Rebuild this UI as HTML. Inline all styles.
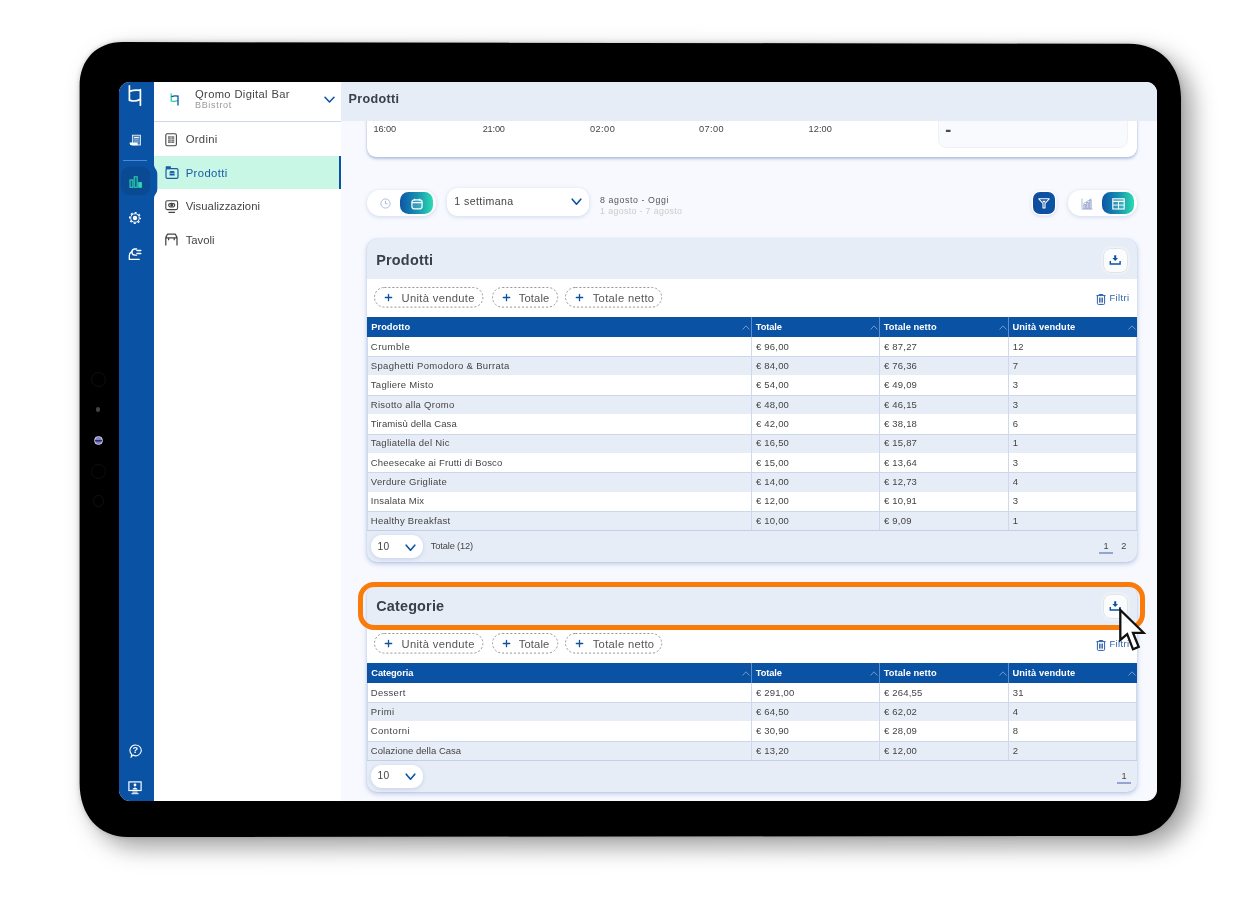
<!DOCTYPE html>
<html lang="it"><head><meta charset="utf-8"><title>Prodotti</title><style>
*{box-sizing:border-box;margin:0;padding:0}
html,body{width:1250px;height:920px;background:#fff;overflow:hidden}
body{position:relative;font-family:"Liberation Sans",sans-serif;color:#444;-webkit-font-smoothing:antialiased}
.a{position:absolute}
.device{left:79.7px;top:42.6px;width:1100.6px;height:794px;background:#000;border-radius:43px 52px 50px 46px / 44px 54px 56px 54px;box-shadow:6px 10px 18px rgba(0,0,0,.28),0 0 6px rgba(0,0,0,.18)}
.screen{left:119px;top:82px;width:1038px;height:719px;border-radius:11px;overflow:hidden;background:#f7f9fe}
.pg{left:-119px;top:-82px;width:1250px;height:920px}
.rail{left:119px;top:82px;width:35px;height:719px;background:#0a52a4}
.nav{left:154px;top:82px;width:187px;height:719px;background:#fff}
.t{white-space:nowrap;line-height:1}
.card{background:#e7edf7;border-radius:10px;box-shadow:0 2px 5px rgba(120,145,200,.45),0 0 2px rgba(120,145,200,.25)}
.chip{border:1px dashed #9a9a9a;border-radius:11px;height:21px;background:#fff}
.pill{background:#fff;border-radius:12px;box-shadow:0 1px 4px rgba(120,145,200,.32)}
.grad{background:linear-gradient(90deg,#0f56a7 0%,#1691b0 52%,#2ddbb0 100%);border-radius:8.5px}
.th{background:#0a52a4;color:#fff;font-weight:bold;font-size:9px}
.row{left:367px;width:770px}
.row.e{background:#e7edf7;border-top:1px solid #cdd7eb;border-bottom:1px solid #cdd7eb}
.row.o{background:#fff}
.cell{font-size:9px;color:#444;top:5.5px}
.vl{width:1px;background:#d0d9ec}
</style></head><body>
<svg class="a" style="left:0;top:0;filter:drop-shadow(11px 10px 12px rgba(0,0,0,.33)) drop-shadow(0 0 2.5px rgba(0,0,0,.2))" width="1250" height="920" viewBox="0 0 1250 920"><path d="M122.6 42.1L1129.0 43.8C1160.2 43.8 1181.0 65.4 1181.0 97.8L1181.0 779.9C1181.0 813.5 1161.0 835.9 1131.0 835.9L127.6 837.1C98.8 837.1 79.6 815.5 79.6 783.1L79.6 86.1C79.6 59.7 96.8 42.1 122.6 42.1Z" fill="#000"/></svg>
<div class="a" style="left:90.7px;top:371.9px;width:15.2px;height:15.2px;border-radius:50%;border:1px solid #101010"></div>
<div class="a" style="left:96.1px;top:407.40000000000003px;width:4.4px;height:4.4px;border-radius:50%;background:#444"></div>
<div class="a" style="left:93.6px;top:435.6px;width:9.4px;height:9.4px;border-radius:50%;background:linear-gradient(180deg,#7a7ac6 0%,#8a8ad0 35%,#23235c 45%,#3a3a8a 60%,#7d7dc8 75%);border:1.4px solid #cfd0ea"></div>
<div class="a" style="left:90.7px;top:463.7px;width:15.2px;height:15.2px;border-radius:50%;border:1px solid #0e0e0e"></div>
<div class="a" style="left:92.5px;top:495.4px;width:11.6px;height:11.6px;border-radius:50%;border:1px solid #111"></div>
<div class="a screen"><div class="a pg">
<div class="a" style="left:367px;top:100px;width:770px;height:56.5px;background:#fff;border-radius:9px;box-shadow:0 2px 3px rgba(120,145,200,.5),0 0 2px rgba(120,145,200,.3)"></div>
<div class="a" style="left:937.5px;top:100px;width:190px;height:47.5px;background:#f8fafe;border-radius:8px;border:1px solid #eef1f8"></div>
<div class="a t" id="dash" style="left:945.2px;top:120.7px;font-size:18px;font-weight:bold;color:#4a4a4a">-</div>
<div class="a t" style="left:373.4px;top:125.0px;font-size:9.2px;color:#444;letter-spacing:-0.06px;">16:00</div>
<div class="a t" style="left:482.7px;top:125.0px;font-size:9.2px;color:#444;letter-spacing:-0.18px;">21:00</div>
<div class="a t" style="left:590.0px;top:125.0px;font-size:9.2px;color:#444;letter-spacing:0.44px;">02:00</div>
<div class="a t" style="left:699.0px;top:125.0px;font-size:9.2px;color:#444;letter-spacing:0.39px;">07:00</div>
<div class="a t" style="left:808.6px;top:125.0px;font-size:9.2px;color:#444;letter-spacing:0.04px;">12:00</div>
<div class="a" style="left:341px;top:82px;width:816px;height:39px;background:#e7edf7"></div>
<div class="a t" style="left:348.6px;top:93.2px;font-size:12.6px;color:#3a404a;font-weight:bold;letter-spacing:0.30px;">Prodotti</div>
<div class="a rail"></div>
<div class="a nav"></div>
<div class="a" style="left:154px;top:121px;width:187px;height:1px;background:#cfd8ea"></div>
<div class="a" style="left:123px;top:160px;width:24px;height:1px;background:#4a8ad6"></div>
<div class="a" style="left:120.6px;top:167px;width:29px;height:27.6px;border-radius:8px;background:#0a4a93"></div>
<svg class="a" style="left:127px;top:84px" width="17" height="24" viewBox="0 0 17 24" fill="none" stroke="#fff" stroke-width="1.7" stroke-linecap="round"><path d="M2.4 1.8V16.3M13.4 5.6V21.2M3 7.2Q8 5.4 13.2 6.4M2.7 16.1Q8 18.3 13.2 15.2"/></svg>
<svg class="a" style="left:129px;top:134px" width="13" height="12" viewBox="0 0 13 12"><rect x="3.4" y="1.2" width="8" height="9.8" fill="#fff" fill-opacity=".28" stroke="#fff" stroke-opacity=".9" stroke-width=".9"/><path d="M5 3.6H9.8" stroke="#fff" stroke-width="1"/><path d="M5 5.6H9.8M5 7.2H9.8" stroke="#fff" stroke-opacity=".45" stroke-width=".7"/><path d="M0.7 8.6H8.6V11.2H2.2Q0.7 11.2 0.7 9.6Z" fill="#fff"/></svg>
<svg class="a" style="left:128.5px;top:175px" width="14" height="14" viewBox="0 0 14 14"><rect x="1" y="4.9" width="2.9" height="7.4" fill="#1c7f9a" fill-opacity=".45" stroke="#2fd9ad" stroke-width="1"/><rect x="5.2" y="1.8" width="3" height="10.5" fill="#1c7f9a" fill-opacity=".45" stroke="#2fd9ad" stroke-width="1"/><rect x="9.2" y="7.1" width="3.7" height="5.7" fill="#2fd9ad"/></svg>
<svg class="a" style="left:128px;top:211px" width="14" height="14" viewBox="0 0 14 14"><circle cx="7" cy="7" r="4.3" fill="none" stroke="#fff" stroke-width="1"/><circle cx="7" cy="7" r="5.4" fill="none" stroke="#fff" stroke-width="1.3" stroke-dasharray="2.12 2.12" stroke-dashoffset="1"/><circle cx="7" cy="7" r="2.2" fill="#fff"/></svg>
<svg class="a" style="left:128px;top:247px" width="15" height="14" viewBox="0 0 15 14" fill="none" stroke="#fff" stroke-width="1.3" stroke-linecap="round" stroke-linejoin="round"><path d="M8.6 2H7A3.1 3.1 0 0 0 7 8.2H8.6"/><path d="M9 3.4H12.8M9 6.6H12.8" stroke-width="1.5"/><path d="M3.9 4.4Q1.3 6 1.3 9V12.4H11.2"/></svg>
<svg class="a" style="left:128.5px;top:744px" width="14" height="14" viewBox="0 0 14 14" fill="none" stroke="#fff" stroke-width="1.1"><path d="M7 1A5.4 5.4 0 1 1 4 11L2.2 13L2.6 10.2A5.4 5.4 0 0 1 7 1Z"/></svg>
<div class="a t" style="left:132.6px;top:746.1px;font-size:9.3px;color:#fff;font-weight:bold;">?</div>
<svg class="a" style="left:128px;top:781px" width="14" height="14" viewBox="0 0 14 14"><rect x="0.9" y="0.9" width="12.2" height="8.6" fill="none" stroke="#fff" stroke-width="1.2"/><circle cx="7" cy="4" r="1.4" fill="#fff"/><path d="M4.2 8.6Q7 4.5 9.8 8.6Z" fill="#fff"/><rect x="4.5" y="10.6" width="5" height="1" fill="#fff"/><rect x="3.5" y="12.2" width="7" height="1" fill="#fff"/></svg>
<svg class="a" style="left:169px;top:93px" width="11" height="13" viewBox="0 0 11 13" fill="none" stroke-width="1.3" stroke-linecap="round"><path d="M2.2 0.8V8.2M2.6 8Q5 9.1 8.6 7.7" stroke="#2fd3a3"/><path d="M9 2.8V12M2.8 3.6Q5.5 2.5 8.8 3.2" stroke="#0a52a4"/></svg>
<div class="a t" style="left:195.0px;top:88.5px;font-size:11.2px;color:#444;letter-spacing:0.35px;">Qromo Digital Bar</div>
<div class="a t" style="left:195.0px;top:101.2px;font-size:9px;color:#999;letter-spacing:0.68px;">BBistrot</div>
<svg class="a" style="left:323.5px;top:95.5px" width="11" height="8" viewBox="0 0 11 8" fill="none" stroke="#0a52a4" stroke-width="1.5" stroke-linecap="round" stroke-linejoin="round"><path d="M1 1.2L5.5 6L10 1.2"/></svg>
<div class="a" style="left:154px;top:156.2px;width:187px;height:33.2px;background:#c8f7e6"></div>
<div class="a" style="left:339px;top:156.2px;width:2px;height:33.2px;background:#0a52a4"></div>
<svg class="a" style="left:153.5px;top:165px" width="4" height="33" viewBox="0 0 4 33"><path d="M0 0C0.5 4 3.3 4.5 3.3 9V24C3.3 28.5 0.5 29 0 33Z" fill="#0a52a4"/></svg>
<div class="a t" style="left:185.7px;top:134.1px;font-size:11.3px;color:#444;letter-spacing:0.29px;">Ordini</div>
<div class="a t" style="left:185.7px;top:167.9px;font-size:11.3px;color:#1a5ca6;letter-spacing:0.38px;">Prodotti</div>
<div class="a t" style="left:185.7px;top:201.3px;font-size:11.3px;color:#444;letter-spacing:0.03px;">Visualizzazioni</div>
<div class="a t" style="left:185.7px;top:234.9px;font-size:11.3px;color:#444;letter-spacing:-0.02px;">Tavoli</div>
<svg class="a" style="left:165px;top:132.5px" width="13" height="14" viewBox="0 0 13 14" fill="none" stroke="#444" stroke-width="1.1"><rect x="0.8" y="0.8" width="10.6" height="12" rx="1.5"/><rect x="3" y="3.3" width="6.2" height="6.6" fill="#666" stroke="none"/><path d="M3 5H9.2M3 6.6H9.2M3 8.2H9.2M6.1 3.3V9.9" stroke="#fff" stroke-width=".5"/></svg>
<svg class="a" style="left:164.5px;top:166px" width="14" height="14" viewBox="0 0 14 14" fill="none" stroke="#1a5ca6" stroke-width="1.2"><path d="M1 0.6H5.6V2.8H1Z" fill="#1a5ca6" stroke-width=".6"/><rect x="1" y="2.6" width="12" height="9.8" rx="1.4"/><path d="M4.6 6.4Q4.6 5 6 5H8.2Q9.6 5 9.6 6.4V9.6H4.6Z" fill="#1a5ca6" stroke="none"/><path d="M4.4 7.3H9.8" stroke="#c8f7e6" stroke-width=".6"/></svg>
<svg class="a" style="left:165px;top:199.5px" width="14" height="14" viewBox="0 0 14 14" fill="none" stroke="#444" stroke-width="1.1"><rect x="0.8" y="0.8" width="11.8" height="8.8" rx="1.5"/><ellipse cx="6.7" cy="5.2" rx="3" ry="1.8"/><circle cx="6.7" cy="5.2" r="0.9" fill="#444"/><path d="M3.5 12.4H10" stroke-width="1.4"/></svg>
<svg class="a" style="left:165px;top:233px" width="13" height="13" viewBox="0 0 13 13" fill="none" stroke="#444" stroke-width="1.25" stroke-linejoin="round"><path d="M0.8 12.6V4.4L2.6 1H10.2L12 4.4V12.6M0.8 4.9H12M3.6 5V7.2M9.2 5V7.2"/></svg>
<div class="a pill" style="left:367px;top:190px;width:68.5px;height:26.3px;border-radius:13px"></div>
<div class="a grad" style="left:400.3px;top:192.4px;width:32.5px;height:21.4px"></div>
<svg class="a" style="left:380px;top:197.5px" width="11" height="11" viewBox="0 0 11 11" fill="none" stroke="#a9b6d8" stroke-width="0.9"><circle cx="5.5" cy="5.5" r="4.6"/><path d="M5.5 2.8V5.8H7.6"/></svg>
<svg class="a" style="left:411px;top:197.5px" width="12" height="12" viewBox="0 0 12 12" fill="none" stroke="#fff" stroke-width="1.2"><rect x="0.9" y="1.8" width="10.2" height="9" rx="2.2" fill="#fff" fill-opacity=".15"/><path d="M0.9 4.6H11.1M3.6 0.8V2.6M8.4 0.8V2.6"/></svg>
<div class="a pill" style="left:447px;top:187.5px;width:142px;height:28.7px;border-radius:11px"></div>
<div class="a t" style="left:454.3px;top:196.2px;font-size:10.6px;color:#444;letter-spacing:0.42px;">1 settimana</div>
<svg class="a" style="left:571px;top:197.5px" width="11" height="8" viewBox="0 0 11 8" fill="none" stroke="#0a52a4" stroke-width="1.6" stroke-linecap="round" stroke-linejoin="round"><path d="M1.2 1.2L5.5 6.2L9.8 1.2"/></svg>
<div class="a t" style="left:600.1px;top:196.2px;font-size:8.8px;color:#555;letter-spacing:0.58px;">8 agosto - Oggi</div>
<div class="a t" style="left:600.1px;top:206.9px;font-size:8.8px;color:#cbcbcb;letter-spacing:0.36px;">1 agosto - 7 agosto</div>
<div class="a" style="left:1033.2px;top:192px;width:21.4px;height:22px;border-radius:7px;background:linear-gradient(90deg,#114b9c,#0a55a6);box-shadow:0 0 0 1.5px #fff,0 1px 4px rgba(120,145,200,.6)"></div>
<svg class="a" style="left:1038px;top:197.5px" width="12" height="11" viewBox="0 0 12 11" fill="none" stroke="#fff" stroke-width="1.1" stroke-linejoin="round"><path d="M0.8 0.8H11.2L7 5.5V10H5V5.5Z"/><path d="M4 2.7H8L6 4.9Z" fill="#fff" stroke="none"/></svg>
<div class="a pill" style="left:1068px;top:190.4px;width:68.5px;height:26.1px;border-radius:13px"></div>
<div class="a grad" style="left:1101.8px;top:192.3px;width:32.2px;height:21.7px"></div>
<svg class="a" style="left:1080.5px;top:197.5px" width="12" height="12" viewBox="0 0 12 12" fill="none" stroke="#9eabd2" stroke-width="0.8"><path d="M1 0.5V11.2H11.5"/><rect x="2.8" y="6.4" width="1.8" height="4.2" fill="#c9d1ea"/><rect x="5.6" y="4.4" width="1.8" height="6.2" fill="#c9d1ea"/><rect x="8.4" y="2" width="1.8" height="8.6" fill="#c9d1ea"/><path d="M2.5 5.5L10.5 0.8"/></svg>
<svg class="a" style="left:1111.5px;top:197.5px" width="13" height="12" viewBox="0 0 13 12" fill="none" stroke="#fff" stroke-width="1.1"><rect x="0.8" y="0.8" width="11.4" height="10.2" fill="#fff" fill-opacity=".14"/><path d="M0.8 3.3H12.2" stroke-width="1.3"/><path d="M0.8 7.1H12.2M6.5 3.3V11" stroke-width=".9"/></svg>
<div class="a card" style="left:367px;top:239px;width:770px;height:322.8px"></div>
<div class="a" style="left:367px;top:279.2px;width:770px;height:38px;background:#fff"></div>
<div class="a t" style="left:376.2px;top:252.6px;font-size:14.4px;color:#3a404a;font-weight:bold;letter-spacing:0.23px;">Prodotti</div>
<div class="a" style="left:1102.5px;top:248px;width:25px;height:25px;border-radius:8px;background:#fbfcfe;border:1px solid #e4e4e6;box-shadow:0 0 3px rgba(255,255,255,.9)"></div>
<svg class="a" style="left:1108.5px;top:254.6px" width="13" height="11" viewBox="0 0 13 11"><path d="M5.2 0.2H7.2V3H9L6.2 5.9L3.4 3H5.2Z" fill="#0a52a4"/><path d="M1.3 6V9H11.1V6" fill="none" stroke="#0a52a4" stroke-width="1.4"/></svg>
<svg class="a" style="left:373.2px;top:285.9px" width="111.4" height="23"><rect x="1.5" y="1.5" width="108.4" height="19.6" rx="9.8" fill="#fff" stroke="#8c8c8c" stroke-width="0.9" stroke-dasharray="2.1 1.9"/></svg>
<svg class="a" style="left:384.2px;top:292.9px" width="9" height="9" viewBox="0 0 9 9" stroke="#0a52a4" stroke-width="1.3" stroke-linecap="round"><path d="M4.5 1.3V7.7M1.3 4.5H7.7"/></svg>
<div class="a t" style="left:401.5px;top:292.5px;font-size:11.2px;color:#555;letter-spacing:0.33px;">Unità vendute</div>
<svg class="a" style="left:490.5px;top:285.9px" width="68.2" height="23"><rect x="1.5" y="1.5" width="65.2" height="19.6" rx="9.8" fill="#fff" stroke="#8c8c8c" stroke-width="0.9" stroke-dasharray="2.1 1.9"/></svg>
<svg class="a" style="left:501.5px;top:292.9px" width="9" height="9" viewBox="0 0 9 9" stroke="#0a52a4" stroke-width="1.3" stroke-linecap="round"><path d="M4.5 1.3V7.7M1.3 4.5H7.7"/></svg>
<div class="a t" style="left:518.8px;top:292.5px;font-size:11.2px;color:#555;letter-spacing:0.12px;">Totale</div>
<svg class="a" style="left:564.4px;top:285.9px" width="99.2" height="23"><rect x="1.5" y="1.5" width="96.2" height="19.6" rx="9.8" fill="#fff" stroke="#8c8c8c" stroke-width="0.9" stroke-dasharray="2.1 1.9"/></svg>
<svg class="a" style="left:575.4px;top:292.9px" width="9" height="9" viewBox="0 0 9 9" stroke="#0a52a4" stroke-width="1.3" stroke-linecap="round"><path d="M4.5 1.3V7.7M1.3 4.5H7.7"/></svg>
<div class="a t" style="left:592.7px;top:292.5px;font-size:11.2px;color:#555;letter-spacing:0.32px;">Totale netto</div>
<svg class="a" style="left:1096px;top:293.5px" width="10" height="11" viewBox="0 0 10 11" fill="none" stroke="#2a5fa8" stroke-width="1"><path d="M0.5 1.6H9.5M3.2 1.4V0.5H6.8V1.4M1.4 1.8V9.4Q1.4 10.4 2.4 10.4H7.6Q8.6 10.4 8.6 9.4V1.8M3.6 3.6V8.6M5 3.6V8.6M6.4 3.6V8.6"/></svg>
<div class="a t" style="left:1109.5px;top:293.8px;font-size:9.3px;color:#2a5fa8;letter-spacing:0.39px;">Filtri</div>
<div class="a th" style="left:367px;top:317px;width:770px;height:20px"></div>
<div class="a t" style="left:371.3px;top:322.9px;font-size:9.3px;color:#fff;font-weight:bold;letter-spacing:0.02px;">Prodotto</div>
<svg class="a" style="left:742.0px;top:324.7px" width="8" height="5" viewBox="0 0 8 5" fill="none" stroke="#7fa3d6" stroke-width="0.9"><path d="M0.5 4.5L4 0.8L7.5 4.5"/></svg>
<div class="a t" style="left:755.8px;top:322.9px;font-size:9.3px;color:#fff;font-weight:bold;letter-spacing:-0.10px;">Totale</div>
<svg class="a" style="left:870.0px;top:324.7px" width="8" height="5" viewBox="0 0 8 5" fill="none" stroke="#7fa3d6" stroke-width="0.9"><path d="M0.5 4.5L4 0.8L7.5 4.5"/></svg>
<div class="a" style="left:751.0px;top:317.2px;width:1px;height:19.6px;background:#5f8ccb"></div>
<div class="a t" style="left:883.8px;top:322.9px;font-size:9.3px;color:#fff;font-weight:bold;letter-spacing:0.07px;">Totale netto</div>
<svg class="a" style="left:998.7px;top:324.7px" width="8" height="5" viewBox="0 0 8 5" fill="none" stroke="#7fa3d6" stroke-width="0.9"><path d="M0.5 4.5L4 0.8L7.5 4.5"/></svg>
<div class="a" style="left:879.0px;top:317.2px;width:1px;height:19.6px;background:#5f8ccb"></div>
<div class="a t" style="left:1012.5px;top:322.9px;font-size:9.3px;color:#fff;font-weight:bold;letter-spacing:0.11px;">Unità vendute</div>
<svg class="a" style="left:1127.5px;top:324.7px" width="8" height="5" viewBox="0 0 8 5" fill="none" stroke="#7fa3d6" stroke-width="0.9"><path d="M0.5 4.5L4 0.8L7.5 4.5"/></svg>
<div class="a" style="left:1007.7px;top:317.2px;width:1px;height:19.6px;background:#5f8ccb"></div>
<div class="a row o" style="top:337px;height:19px"></div>
<div class="a t" style="left:370.8px;top:341.5px;font-size:9.5px;color:#444;letter-spacing:0.50px;">Crumble</div>
<div class="a t" style="left:756.0px;top:341.5px;font-size:9.5px;color:#444;letter-spacing:0.20px;">€ 96,00</div>
<div class="a t" style="left:884.0px;top:341.5px;font-size:9.5px;color:#444;letter-spacing:0.20px;">€ 87,27</div>
<div class="a t" style="left:1012.7px;top:341.5px;font-size:9.5px;color:#444;letter-spacing:0.20px;">12</div>
<div class="a row e" style="top:356px;height:20px"></div>
<div class="a t" style="left:370.8px;top:360.8px;font-size:9.5px;color:#444;letter-spacing:0.34px;">Spaghetti Pomodoro &amp; Burrata</div>
<div class="a t" style="left:756.0px;top:360.8px;font-size:9.5px;color:#444;letter-spacing:0.20px;">€ 84,00</div>
<div class="a t" style="left:884.0px;top:360.8px;font-size:9.5px;color:#444;letter-spacing:0.20px;">€ 76,36</div>
<div class="a t" style="left:1012.7px;top:360.8px;font-size:9.5px;color:#444;letter-spacing:0.20px;">7</div>
<div class="a row o" style="top:375px;height:20px"></div>
<div class="a t" style="left:370.8px;top:380.2px;font-size:9.5px;color:#444;letter-spacing:0.29px;">Tagliere Misto</div>
<div class="a t" style="left:756.0px;top:380.2px;font-size:9.5px;color:#444;letter-spacing:0.20px;">€ 54,00</div>
<div class="a t" style="left:884.0px;top:380.2px;font-size:9.5px;color:#444;letter-spacing:0.20px;">€ 49,09</div>
<div class="a t" style="left:1012.7px;top:380.2px;font-size:9.5px;color:#444;letter-spacing:0.20px;">3</div>
<div class="a row e" style="top:395px;height:20px"></div>
<div class="a t" style="left:370.8px;top:399.5px;font-size:9.5px;color:#444;letter-spacing:0.28px;">Risotto alla Qromo</div>
<div class="a t" style="left:756.0px;top:399.5px;font-size:9.5px;color:#444;letter-spacing:0.20px;">€ 48,00</div>
<div class="a t" style="left:884.0px;top:399.5px;font-size:9.5px;color:#444;letter-spacing:0.20px;">€ 46,15</div>
<div class="a t" style="left:1012.7px;top:399.5px;font-size:9.5px;color:#444;letter-spacing:0.20px;">3</div>
<div class="a row o" style="top:414px;height:20px"></div>
<div class="a t" style="left:370.8px;top:418.9px;font-size:9.5px;color:#444;letter-spacing:0.13px;">Tiramisù della Casa</div>
<div class="a t" style="left:756.0px;top:418.9px;font-size:9.5px;color:#444;letter-spacing:0.20px;">€ 42,00</div>
<div class="a t" style="left:884.0px;top:418.9px;font-size:9.5px;color:#444;letter-spacing:0.20px;">€ 38,18</div>
<div class="a t" style="left:1012.7px;top:418.9px;font-size:9.5px;color:#444;letter-spacing:0.20px;">6</div>
<div class="a row e" style="top:434px;height:20px"></div>
<div class="a t" style="left:370.8px;top:438.3px;font-size:9.5px;color:#444;letter-spacing:0.26px;">Tagliatella del Nic</div>
<div class="a t" style="left:756.0px;top:438.3px;font-size:9.5px;color:#444;letter-spacing:0.20px;">€ 16,50</div>
<div class="a t" style="left:884.0px;top:438.3px;font-size:9.5px;color:#444;letter-spacing:0.20px;">€ 15,87</div>
<div class="a t" style="left:1012.7px;top:438.3px;font-size:9.5px;color:#444;letter-spacing:0.20px;">1</div>
<div class="a row o" style="top:453px;height:19px"></div>
<div class="a t" style="left:370.8px;top:457.6px;font-size:9.5px;color:#444;letter-spacing:0.19px;">Cheesecake ai Frutti di Bosco</div>
<div class="a t" style="left:756.0px;top:457.6px;font-size:9.5px;color:#444;letter-spacing:0.20px;">€ 15,00</div>
<div class="a t" style="left:884.0px;top:457.6px;font-size:9.5px;color:#444;letter-spacing:0.20px;">€ 13,64</div>
<div class="a t" style="left:1012.7px;top:457.6px;font-size:9.5px;color:#444;letter-spacing:0.20px;">3</div>
<div class="a row e" style="top:472px;height:21px"></div>
<div class="a t" style="left:370.8px;top:477.0px;font-size:9.5px;color:#444;letter-spacing:0.29px;">Verdure Grigliate</div>
<div class="a t" style="left:756.0px;top:477.0px;font-size:9.5px;color:#444;letter-spacing:0.20px;">€ 14,00</div>
<div class="a t" style="left:884.0px;top:477.0px;font-size:9.5px;color:#444;letter-spacing:0.20px;">€ 12,73</div>
<div class="a t" style="left:1012.7px;top:477.0px;font-size:9.5px;color:#444;letter-spacing:0.20px;">4</div>
<div class="a row o" style="top:492px;height:19px"></div>
<div class="a t" style="left:370.8px;top:496.3px;font-size:9.5px;color:#444;letter-spacing:0.23px;">Insalata Mix</div>
<div class="a t" style="left:756.0px;top:496.3px;font-size:9.5px;color:#444;letter-spacing:0.20px;">€ 12,00</div>
<div class="a t" style="left:884.0px;top:496.3px;font-size:9.5px;color:#444;letter-spacing:0.20px;">€ 10,91</div>
<div class="a t" style="left:1012.7px;top:496.3px;font-size:9.5px;color:#444;letter-spacing:0.20px;">3</div>
<div class="a row e" style="top:511px;height:20px"></div>
<div class="a t" style="left:370.8px;top:515.7px;font-size:9.5px;color:#444;letter-spacing:0.27px;">Healthy Breakfast</div>
<div class="a t" style="left:756.0px;top:515.7px;font-size:9.5px;color:#444;letter-spacing:0.20px;">€ 10,00</div>
<div class="a t" style="left:884.0px;top:515.7px;font-size:9.5px;color:#444;letter-spacing:0.20px;">€ 9,09</div>
<div class="a t" style="left:1012.7px;top:515.7px;font-size:9.5px;color:#444;letter-spacing:0.20px;">1</div>
<div class="a vl" style="left:751.0px;top:336.7px;height:193.6px"></div>
<div class="a vl" style="left:879.0px;top:336.7px;height:193.6px"></div>
<div class="a vl" style="left:1007.7px;top:336.7px;height:193.6px"></div>
<div class="a vl" style="left:367px;top:336.7px;height:193.6px"></div>
<div class="a vl" style="left:1136px;top:336.7px;height:193.6px"></div>
<div class="a" style="left:367px;top:529.8px;width:770px;height:1px;background:#c3cfe6"></div>
<div class="a pill" style="left:371px;top:535.0999999999999px;width:52px;height:23.4px;border-radius:11px"></div>
<div class="a t" style="left:377.6px;top:541.5px;font-size:10.2px;color:#444;letter-spacing:0.20px;">10</div>
<svg class="a" style="left:404.5px;top:543.5999999999999px" width="11" height="8" viewBox="0 0 11 8" fill="none" stroke="#0a52a4" stroke-width="1.6" stroke-linecap="round" stroke-linejoin="round"><path d="M1.2 1.2L5.5 6.2L9.8 1.2"/></svg>
<div class="a t" style="left:430.7px;top:541.8px;font-size:9.3px;color:#444;letter-spacing:-0.14px;">Totale (12)</div>
<div class="a t" style="left:1103.4px;top:541.7px;font-size:9.2px;color:#444;">1</div>
<div class="a t" style="left:1121.3px;top:541.7px;font-size:9.2px;color:#444;">2</div>
<div class="a" style="left:1099px;top:552px;width:14px;height:2px;background:#93a5d4"></div>
<div class="a card" style="left:367px;top:585px;width:770px;height:206.64px"></div>
<div class="a" style="left:367px;top:625.2px;width:770px;height:38px;background:#fff"></div>
<div class="a t" style="left:376.2px;top:598.6px;font-size:14.4px;color:#3a404a;font-weight:bold;letter-spacing:0.19px;">Categorie</div>
<div class="a" style="left:1102.5px;top:594px;width:25px;height:25px;border-radius:8px;background:#fbfcfe;border:1px solid #e4e4e6;box-shadow:0 0 3px rgba(255,255,255,.9)"></div>
<svg class="a" style="left:1108.5px;top:600.6px" width="13" height="11" viewBox="0 0 13 11"><path d="M5.2 0.2H7.2V3H9L6.2 5.9L3.4 3H5.2Z" fill="#0a52a4"/><path d="M1.3 6V9H11.1V6" fill="none" stroke="#0a52a4" stroke-width="1.4"/></svg>
<svg class="a" style="left:373.2px;top:631.9px" width="111.4" height="23"><rect x="1.5" y="1.5" width="108.4" height="19.6" rx="9.8" fill="#fff" stroke="#8c8c8c" stroke-width="0.9" stroke-dasharray="2.1 1.9"/></svg>
<svg class="a" style="left:384.2px;top:638.9000000000001px" width="9" height="9" viewBox="0 0 9 9" stroke="#0a52a4" stroke-width="1.3" stroke-linecap="round"><path d="M4.5 1.3V7.7M1.3 4.5H7.7"/></svg>
<div class="a t" style="left:401.5px;top:638.5px;font-size:11.2px;color:#555;letter-spacing:0.33px;">Unità vendute</div>
<svg class="a" style="left:490.5px;top:631.9px" width="68.2" height="23"><rect x="1.5" y="1.5" width="65.2" height="19.6" rx="9.8" fill="#fff" stroke="#8c8c8c" stroke-width="0.9" stroke-dasharray="2.1 1.9"/></svg>
<svg class="a" style="left:501.5px;top:638.9000000000001px" width="9" height="9" viewBox="0 0 9 9" stroke="#0a52a4" stroke-width="1.3" stroke-linecap="round"><path d="M4.5 1.3V7.7M1.3 4.5H7.7"/></svg>
<div class="a t" style="left:518.8px;top:638.5px;font-size:11.2px;color:#555;letter-spacing:0.12px;">Totale</div>
<svg class="a" style="left:564.4px;top:631.9px" width="99.2" height="23"><rect x="1.5" y="1.5" width="96.2" height="19.6" rx="9.8" fill="#fff" stroke="#8c8c8c" stroke-width="0.9" stroke-dasharray="2.1 1.9"/></svg>
<svg class="a" style="left:575.4px;top:638.9000000000001px" width="9" height="9" viewBox="0 0 9 9" stroke="#0a52a4" stroke-width="1.3" stroke-linecap="round"><path d="M4.5 1.3V7.7M1.3 4.5H7.7"/></svg>
<div class="a t" style="left:592.7px;top:638.5px;font-size:11.2px;color:#555;letter-spacing:0.32px;">Totale netto</div>
<svg class="a" style="left:1096px;top:639.5px" width="10" height="11" viewBox="0 0 10 11" fill="none" stroke="#2a5fa8" stroke-width="1"><path d="M0.5 1.6H9.5M3.2 1.4V0.5H6.8V1.4M1.4 1.8V9.4Q1.4 10.4 2.4 10.4H7.6Q8.6 10.4 8.6 9.4V1.8M3.6 3.6V8.6M5 3.6V8.6M6.4 3.6V8.6"/></svg>
<div class="a t" style="left:1109.5px;top:639.8px;font-size:9.3px;color:#2a5fa8;letter-spacing:0.39px;">Filtri</div>
<div class="a th" style="left:367px;top:663px;width:770px;height:20px"></div>
<div class="a t" style="left:371.3px;top:668.9px;font-size:9.3px;color:#fff;font-weight:bold;letter-spacing:-0.11px;">Categoria</div>
<svg class="a" style="left:742.0px;top:670.7px" width="8" height="5" viewBox="0 0 8 5" fill="none" stroke="#7fa3d6" stroke-width="0.9"><path d="M0.5 4.5L4 0.8L7.5 4.5"/></svg>
<div class="a t" style="left:755.8px;top:668.9px;font-size:9.3px;color:#fff;font-weight:bold;letter-spacing:-0.10px;">Totale</div>
<svg class="a" style="left:870.0px;top:670.7px" width="8" height="5" viewBox="0 0 8 5" fill="none" stroke="#7fa3d6" stroke-width="0.9"><path d="M0.5 4.5L4 0.8L7.5 4.5"/></svg>
<div class="a" style="left:751.0px;top:663.2px;width:1px;height:19.6px;background:#5f8ccb"></div>
<div class="a t" style="left:883.8px;top:668.9px;font-size:9.3px;color:#fff;font-weight:bold;letter-spacing:0.07px;">Totale netto</div>
<svg class="a" style="left:998.7px;top:670.7px" width="8" height="5" viewBox="0 0 8 5" fill="none" stroke="#7fa3d6" stroke-width="0.9"><path d="M0.5 4.5L4 0.8L7.5 4.5"/></svg>
<div class="a" style="left:879.0px;top:663.2px;width:1px;height:19.6px;background:#5f8ccb"></div>
<div class="a t" style="left:1012.5px;top:668.9px;font-size:9.3px;color:#fff;font-weight:bold;letter-spacing:0.11px;">Unità vendute</div>
<svg class="a" style="left:1127.5px;top:670.7px" width="8" height="5" viewBox="0 0 8 5" fill="none" stroke="#7fa3d6" stroke-width="0.9"><path d="M0.5 4.5L4 0.8L7.5 4.5"/></svg>
<div class="a" style="left:1007.7px;top:663.2px;width:1px;height:19.6px;background:#5f8ccb"></div>
<div class="a row o" style="top:683px;height:19px"></div>
<div class="a t" style="left:370.8px;top:687.5px;font-size:9.5px;color:#444;letter-spacing:0.29px;">Dessert</div>
<div class="a t" style="left:756.0px;top:687.5px;font-size:9.5px;color:#444;letter-spacing:0.20px;">€ 291,00</div>
<div class="a t" style="left:884.0px;top:687.5px;font-size:9.5px;color:#444;letter-spacing:0.20px;">€ 264,55</div>
<div class="a t" style="left:1012.7px;top:687.5px;font-size:9.5px;color:#444;letter-spacing:0.20px;">31</div>
<div class="a row e" style="top:702px;height:20px"></div>
<div class="a t" style="left:370.8px;top:706.8px;font-size:9.5px;color:#444;letter-spacing:0.42px;">Primi</div>
<div class="a t" style="left:756.0px;top:706.8px;font-size:9.5px;color:#444;letter-spacing:0.20px;">€ 64,50</div>
<div class="a t" style="left:884.0px;top:706.8px;font-size:9.5px;color:#444;letter-spacing:0.20px;">€ 62,02</div>
<div class="a t" style="left:1012.7px;top:706.8px;font-size:9.5px;color:#444;letter-spacing:0.20px;">4</div>
<div class="a row o" style="top:721px;height:20px"></div>
<div class="a t" style="left:370.8px;top:726.2px;font-size:9.5px;color:#444;letter-spacing:0.40px;">Contorni</div>
<div class="a t" style="left:756.0px;top:726.2px;font-size:9.5px;color:#444;letter-spacing:0.20px;">€ 30,90</div>
<div class="a t" style="left:884.0px;top:726.2px;font-size:9.5px;color:#444;letter-spacing:0.20px;">€ 28,09</div>
<div class="a t" style="left:1012.7px;top:726.2px;font-size:9.5px;color:#444;letter-spacing:0.20px;">8</div>
<div class="a row e" style="top:741px;height:20px"></div>
<div class="a t" style="left:370.8px;top:745.5px;font-size:9.5px;color:#444;letter-spacing:0.03px;">Colazione della Casa</div>
<div class="a t" style="left:756.0px;top:745.5px;font-size:9.5px;color:#444;letter-spacing:0.20px;">€ 13,20</div>
<div class="a t" style="left:884.0px;top:745.5px;font-size:9.5px;color:#444;letter-spacing:0.20px;">€ 12,00</div>
<div class="a t" style="left:1012.7px;top:745.5px;font-size:9.5px;color:#444;letter-spacing:0.20px;">2</div>
<div class="a vl" style="left:751.0px;top:682.7px;height:77.44px"></div>
<div class="a vl" style="left:879.0px;top:682.7px;height:77.44px"></div>
<div class="a vl" style="left:1007.7px;top:682.7px;height:77.44px"></div>
<div class="a vl" style="left:367px;top:682.7px;height:77.44px"></div>
<div class="a vl" style="left:1136px;top:682.7px;height:77.44px"></div>
<div class="a" style="left:367px;top:759.6400000000001px;width:770px;height:1px;background:#c3cfe6"></div>
<div class="a pill" style="left:371px;top:764.94px;width:52px;height:23.4px;border-radius:11px"></div>
<div class="a t" style="left:377.6px;top:771.3px;font-size:10.2px;color:#444;letter-spacing:0.20px;">10</div>
<svg class="a" style="left:404.5px;top:773.44px" width="11" height="8" viewBox="0 0 11 8" fill="none" stroke="#0a52a4" stroke-width="1.6" stroke-linecap="round" stroke-linejoin="round"><path d="M1.2 1.2L5.5 6.2L9.8 1.2"/></svg>
<div class="a t" style="left:1121.4px;top:771.5px;font-size:9.2px;color:#444;">1</div>
<div class="a" style="left:1117px;top:782px;width:14px;height:2px;background:#93a5d4"></div>
<div class="a" style="left:358px;top:582px;width:787.3px;height:47.8px;border:5.8px solid #fa7a0a;border-radius:16px"></div>
<svg class="a" style="left:1115px;top:604px" width="34" height="50" viewBox="0 0 34 50"><path d="M5.3 6V36L12.2 30.2L18 45.3L23.7 42.9L18 28.8H28.6Z" fill="#fff" stroke="#111" stroke-width="2.3" stroke-linejoin="miter"/></svg>
</div></div>
</body></html>
